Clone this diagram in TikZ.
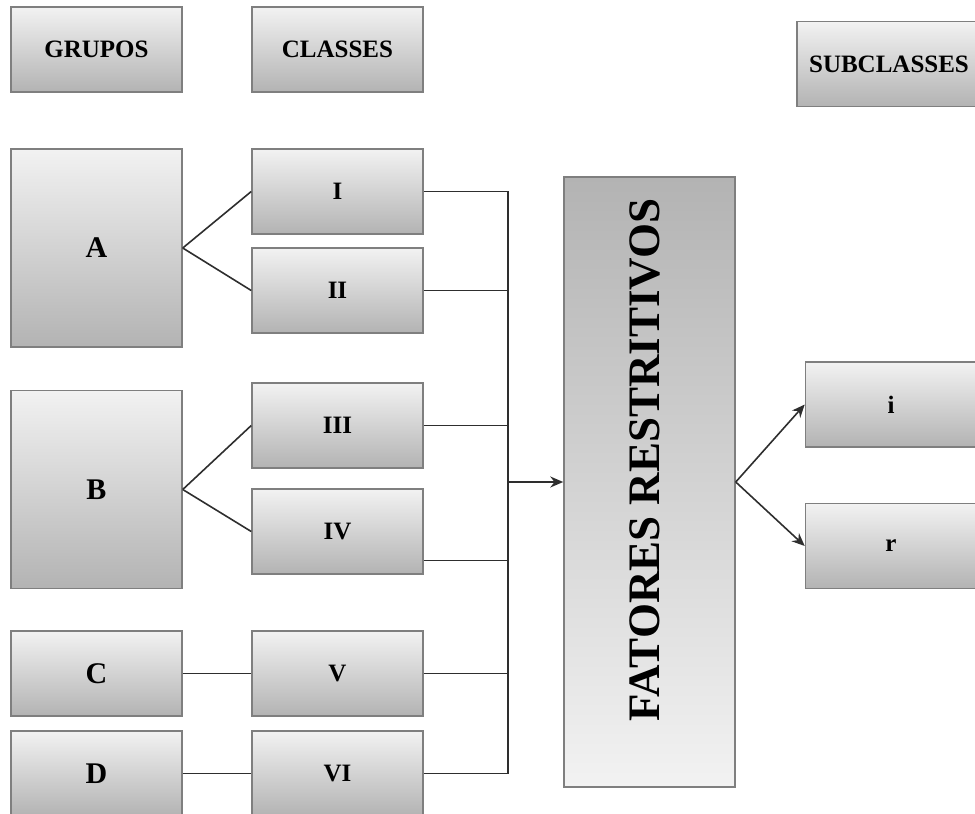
\documentclass[tikz,border=0pt]{standalone}
\usepackage{fontspec}
\setmainfont{Liberation Serif}
\usetikzlibrary{arrows.meta}
\definecolor{boxtop}{HTML}{F2F2F2}
\definecolor{boxbot}{HTML}{B3B3B3}
\definecolor{boxline}{HTML}{7F7F7F}
\definecolor{wire}{HTML}{2E2E2E}
\begin{document}
\begin{tikzpicture}[x=1pt,y=-1pt,
  box/.style={draw=boxline, line width=1.5pt, top color=boxtop, bottom color=boxbot,
    minimum width=171pt, minimum height=85pt, inner sep=0pt,
    font=\fontsize{25}{25}\selectfont\bfseries},
  bigbox/.style={box, minimum height=198pt, font=\fontsize{30}{30}\selectfont\bfseries},
  letterbox/.style={box, font=\fontsize{30}{30}\selectfont\bfseries},
  wireline/.style={draw=wire, line width=1.6pt},
  arrowline/.style={wireline, -{Stealth[length=13pt,width=11pt]}}
]
\useasboundingbox (0,0) rectangle (975,814);

% column headers
\node[box] (grupos) at (96.5,49.5) {GRUPOS};
\node[box] (classes) at (337.5,49.5) {CLASSES};
\node[box, minimum width=184pt] (subclasses) at (889,64) {SUBCLASSES};

% groups
\node[bigbox] (A) at (96.5,248) {A};
\node[bigbox] (B) at (96.5,489.5) {B};
\node[letterbox] (C) at (96.5,673.5) {C};
\node[letterbox] (D) at (96.5,773.5) {D};

% classes
\node[box] (I) at (337.5,191.5) {I};
\node[box] (II) at (337.5,290.5) {II};
\node[box] (III) at (337.5,425.5) {III};
\node[box] (IV) at (337.5,531.5) {IV};
\node[box] (V) at (337.5,673.5) {V};
\node[box] (VI) at (337.5,773.5) {VI};

% restrictive factors
\node[draw=boxline, line width=1.5pt, top color=boxbot, bottom color=boxtop,
  minimum width=171pt, minimum height=610pt, inner sep=0pt] (fat) at (649.5,482) {};
\node[rotate=90, font=\fontsize{45}{45}\selectfont\bfseries] (fatlabel) at (645,460)
  {FATORES RESTRITIVOS};

% subclasses
\node[box] (sub i) at (891,404.5) {i};
\node[box] (sub r) at (891,546) {r};

% group -> class links
\draw[wireline] (A.east) -- (I.west);
\draw[wireline] (A.east) -- (II.west);
\draw[wireline] (B.east) -- (III.west);
\draw[wireline] (B.east) -- (IV.west);
\draw[wireline] (C.east) -- (V.west);
\draw[wireline] (D.east) -- (VI.west);

% collecting bus
\coordinate (bus) at (508,482);
\coordinate (ivout) at ([yshift=-29pt]IV.east);
\draw[wireline] (I.east) -- (I.east -| bus) -- (VI.east -| bus) -- (VI.east);
\draw[wireline] (II.east) -- (II.east -| bus);
\draw[wireline] (III.east) -- (III.east -| bus);
\draw[wireline] (ivout) -- (ivout -| bus);
\draw[wireline] (V.east) -- (V.east -| bus);
\draw[arrowline] (bus) -- (fat.west);

% split into subclasses
\draw[arrowline] (fat.east) -- (sub i.west);
\draw[arrowline] (fat.east) -- (sub r.west);
\end{tikzpicture}
\end{document}
